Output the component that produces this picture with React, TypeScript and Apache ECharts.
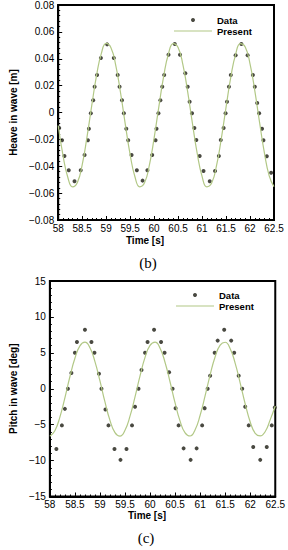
import React, { useEffect, useRef } from "react";
import * as echarts from "echarts";

// ---- Heave (b) ----
const heaveDataT = [58.02, 58.08, 58.13, 58.22, 58.34, 58.47, 58.55, 58.62, 58.64, 58.68, 58.73, 58.76, 58.81, 58.89, 59.02, 59.16, 59.24, 59.28, 59.33, 59.37, 59.42, 59.46, 59.53, 59.64, 59.76, 59.86, 59.96, 60.03, 60.05, 60.09, 60.13, 60.17, 60.21, 60.30, 60.43, 60.54, 60.65, 60.70, 60.74, 60.79, 60.84, 60.88, 60.95, 61.03, 61.16, 61.27, 61.35, 61.39, 61.45, 61.49, 61.52, 61.56, 61.60, 61.70, 61.82, 61.95, 62.06, 62.10, 62.15, 62.19, 62.25, 62.28, 62.35, 62.44];
const heaveDataV = [-0.0115, -0.0207, -0.0324, -0.0430, -0.0512, -0.0430, -0.0316, -0.0207, -0.0121, -0.0006, 0.0091, 0.0192, 0.0279, 0.0406, 0.0507, 0.0406, 0.0279, 0.0192, 0.0091, -0.0006, -0.0121, -0.0207, -0.0316, -0.0430, -0.0507, -0.0430, -0.0316, -0.0207, -0.0121, -0.0006, 0.0091, 0.0192, 0.0279, 0.0430, 0.0510, 0.0430, 0.0292, 0.0192, 0.0080, -0.0006, -0.0115, -0.0205, -0.0324, -0.0435, -0.0512, -0.0435, -0.0324, -0.0205, -0.0115, -0.0006, 0.0080, 0.0192, 0.0279, 0.0426, 0.0510, 0.0426, 0.0279, 0.0192, 0.0071, -0.0006, -0.0121, -0.0207, -0.0326, -0.0448];

const lineT = [58.0, 58.1, 58.2, 58.3, 58.4, 58.5, 58.6, 58.7, 58.8, 58.9, 59.0, 59.1, 59.2, 59.3, 59.4, 59.5, 59.6, 59.7, 59.8, 59.9, 60.0, 60.1, 60.2, 60.3, 60.4, 60.5, 60.6, 60.7, 60.8, 60.9, 61.0, 61.1, 61.2, 61.3, 61.4, 61.5, 61.6, 61.7, 61.8, 61.9, 62.0, 62.1, 62.2, 62.3, 62.4, 62.5];
const heaveLineV = [-0.0097, -0.0319, -0.0482, -0.0554, -0.0521, -0.0389, -0.0183, 0.0053, 0.0277, 0.0440, 0.0514, 0.0482, 0.0351, 0.0147, -0.0090, -0.0313, -0.0478, -0.0553, -0.0523, -0.0394, -0.0190, 0.0046, 0.0271, 0.0437, 0.0513, 0.0484, 0.0356, 0.0154, -0.0083, -0.0307, -0.0475, -0.0553, -0.0525, -0.0398, -0.0197, 0.0039, 0.0265, 0.0433, 0.0512, 0.0487, 0.0362, 0.0161, -0.0076, -0.0301, -0.0471, -0.0552];

// ---- Pitch (c) ----
const pitchDataT = [58.13, 58.24, 58.30, 58.36, 58.43, 58.50, 58.54, 58.70, 58.83, 58.89, 58.98, 59.03, 59.11, 59.17, 59.29, 59.41, 59.53, 59.64, 59.70, 59.77, 59.83, 59.90, 59.95, 60.08, 60.22, 60.29, 60.38, 60.45, 60.51, 60.57, 60.67, 60.81, 60.93, 61.04, 61.09, 61.15, 61.20, 61.29, 61.35, 61.48, 61.62, 61.68, 61.77, 61.84, 61.90, 61.97, 62.06, 62.20, 62.33, 62.43, 62.49];
const pitchDataV = [-8.4, -5.1, -2.8, 0.0, 2.2, 5.0, 6.5, 8.2, 6.5, 5.0, 2.1, 0.0, -2.9, -5.1, -8.4, -9.9, -8.4, -5.1, -2.5, 0.0, 2.6, 5.0, 6.5, 8.2, 6.5, 5.0, 2.3, 0.0, -2.7, -5.1, -8.3, -9.9, -8.3, -5.1, -2.7, 0.0, 1.8, 5.0, 6.7, 8.2, 6.7, 5.0, 1.8, 0.0, -2.5, -5.1, -8.1, -9.9, -8.1, -5.1, -2.6];
const pitchLineV = [-6.60, -5.84, -3.94, -1.26, 1.67, 4.24, 5.97, 6.49, 5.71, 3.78, 1.09, -1.84, -4.41, -6.10, -6.59, -5.78, -3.82, -1.12, 1.80, 4.36, 6.03, 6.49, 5.64, 3.66, 0.94, -1.98, -4.51, -6.15, -6.58, -5.70, -3.69, -0.97, 1.94, 4.46, 6.08, 6.47, 5.57, 3.54, 0.79, -2.12, -4.62, -6.21, -6.57, -5.95, -4.30, -2.40];

const FONT = "'Liberation Sans', Arial, sans-serif";
const DOT = "#1c1c12";
const LINE = "#b2c886";

const zip = (a: number[], b: number[]) => a.map((x, i) => [x, b[i]]);
const fmt = (v: number) => String(+(+v).toFixed(4)).replace("-", "\u2212");

function xAxis(gridIndex: number) {
  return {
    type: "value",
    gridIndex,
    min: 58,
    max: 62.5,
    interval: 0.5,
    axisLine: { show: true, onZero: false, lineStyle: { color: "#000", width: 2 } },
    axisTick: { show: true, inside: true, length: 4, lineStyle: { color: "#000", width: 1 } },
    minorTick: { show: true, splitNumber: 5, length: 2, lineStyle: { color: "#000", width: 1 } },
    splitLine: { show: false },
    axisLabel: { color: "#000", fontSize: 10, fontFamily: FONT, margin: 3, formatter: fmt },
  };
}

function yAxis(gridIndex: number, name: string, min: number, max: number, interval: number) {
  return {
    type: "value",
    gridIndex,
    min,
    max,
    interval,
    name,
    nameLocation: "middle",
    nameGap: 24,
    nameTextStyle: { color: "#000", fontSize: 10, fontWeight: "bold", fontFamily: FONT },
    axisLine: { show: true, onZero: false, lineStyle: { color: "#000", width: 2 } },
    axisTick: { show: true, inside: true, length: 4, lineStyle: { color: "#000", width: 1 } },
    minorTick: { show: true, splitNumber: 5, length: 2, lineStyle: { color: "#000", width: 1 } },
    splitLine: { show: false },
    axisLabel: { color: "#000", fontSize: 10, fontFamily: FONT, margin: 4, formatter: fmt },
  };
}

function legend(left: number, top: number) {
  return {
    orient: "vertical",
    left,
    top,
    padding: 0,
    itemWidth: 38,
    itemHeight: 4,
    itemGap: 0,
    selectedMode: false,
    textStyle: { color: "#000", fontSize: 9.5, fontWeight: "bold", fontFamily: FONT, lineHeight: 11 },
    data: [
      { name: "Data", icon: "circle" },
      { name: "Present", icon: "path://M0 0H100V3H0Z" },
    ],
  };
}

export default function App() {
  const ref = useRef<HTMLDivElement>(null);
  useEffect(() => {
    if (!ref.current) return;
    const chart = echarts.init(ref.current, null, { renderer: "svg" });
    const textStyle = (text: string, font: string) => ({
      text,
      fill: "#000",
      font,
      align: "center",
      verticalAlign: "middle",
    });
    chart.setOption({
      animation: false,
      backgroundColor: "#fff",
      grid: [
        { left: 39.5, top: 5, width: 234.5, height: 215, show: true, borderColor: "#000", borderWidth: 2, backgroundColor: "transparent" },
        { left: 40.7, top: 281, width: 235.6, height: 215.5, show: true, borderColor: "#000", borderWidth: 2, backgroundColor: "transparent" },
      ],
      xAxis: [xAxis(0), xAxis(1)],
      yAxis: [
        yAxis(0, "Heave in wave [m]", -0.08, 0.08, 0.02),
        yAxis(1, "Pitch in wave [deg]", -15, 15, 5),
      ],
      legend: [legend(174, 14.5), legend(176, 289.5)],
      series: [
        {
          name: "Present", type: "line", xAxisIndex: 0, yAxisIndex: 0, smooth: true, symbol: "none",
          lineStyle: { color: LINE, width: 1.2 }, itemStyle: { color: LINE }, data: zip(lineT, heaveLineV),
        },
        {
          name: "Data", type: "scatter", xAxisIndex: 0, yAxisIndex: 0, symbolSize: 4,
          itemStyle: { color: DOT }, data: zip(heaveDataT, heaveDataV),
        },
        {
          name: "Present", type: "line", xAxisIndex: 1, yAxisIndex: 1, smooth: true, symbol: "none",
          lineStyle: { color: LINE, width: 1.2 }, itemStyle: { color: LINE }, data: zip(lineT, pitchLineV),
        },
        {
          name: "Data", type: "scatter", xAxisIndex: 1, yAxisIndex: 1, symbolSize: 4,
          itemStyle: { color: DOT }, data: zip(pitchDataT, pitchDataV),
        },
      ],
      graphic: [
        { type: "text", x: 145, y: 240, style: textStyle("Time [s]", `bold 10px ${FONT}`) },
        { type: "text", x: 148, y: 263, style: textStyle("(b)", `15px 'Liberation Serif', 'DejaVu Serif', serif`) },
        { type: "text", x: 147, y: 515, style: textStyle("Time [s]", `bold 10px ${FONT}`) },
        { type: "text", x: 146, y: 538, style: textStyle("(c)", `15px 'Liberation Serif', 'DejaVu Serif', serif`) },
      ],
    });
    return () => chart.dispose();
  }, []);
  return (
    <div
      ref={ref}
      style={{ position: "absolute", left: 0, top: 0, width: 288, height: 550, background: "#fff" }}
    />
  );
}
